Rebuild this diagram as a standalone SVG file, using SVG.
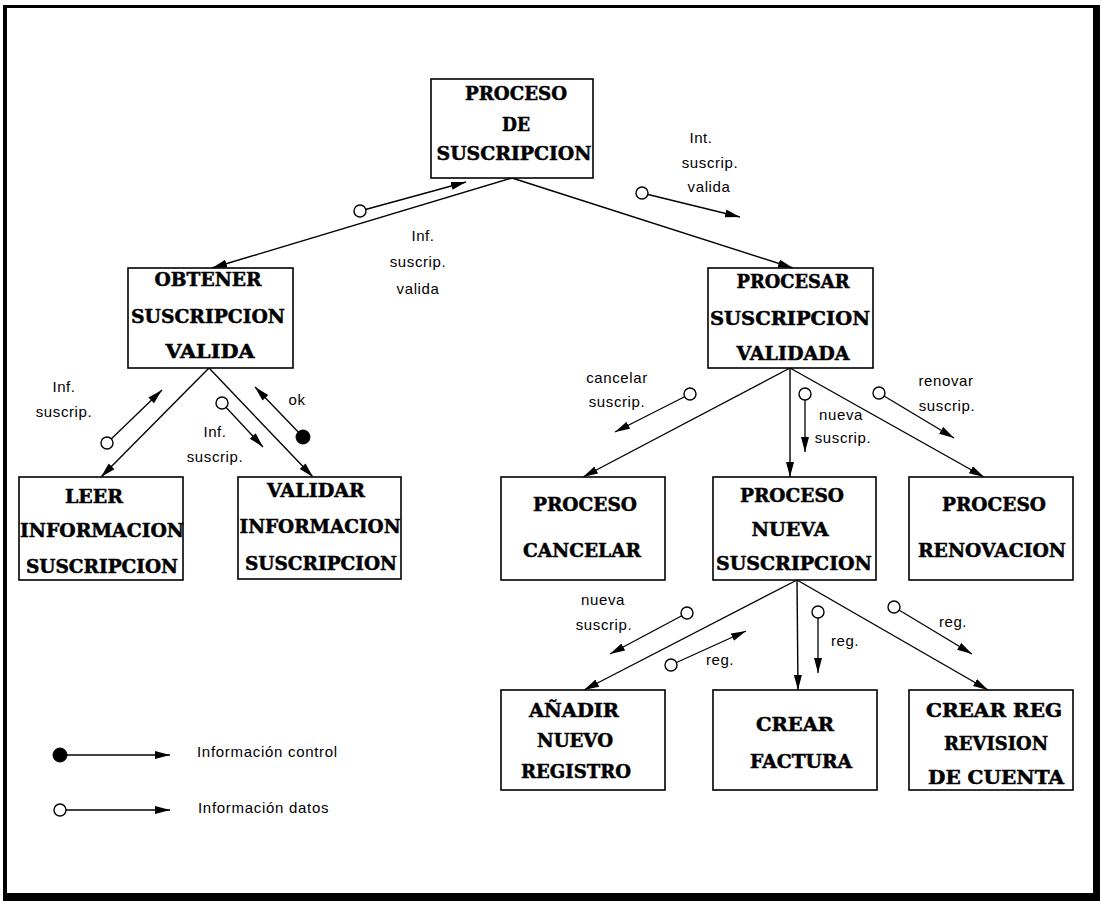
<svg xmlns="http://www.w3.org/2000/svg" width="1109" height="901" viewBox="0 0 1109 901">
  <defs>
    <marker id="arrow" markerUnits="userSpaceOnUse" markerWidth="16" markerHeight="9" refX="15" refY="4" orient="auto">
      <path d="M0,0 L15,4 L0,8 Z" fill="#000"/>
    </marker>
    <style>
      .box { fill: #fff; stroke: #000; stroke-width: 1.6; }
      .nt { font-family: "DejaVu Serif", "Liberation Serif", serif; font-weight: bold; font-size: 18px; fill: #000; stroke: #000; stroke-width: 0.5; text-anchor: middle; }
      .lb { font-family: "Liberation Sans", Arial, sans-serif; font-size: 15px; letter-spacing: 0.6px; fill: #000; text-anchor: middle; }
      .lg { font-family: "Liberation Sans", Arial, sans-serif; font-size: 15px; letter-spacing: 0.7px; fill: #000; }
      .edge { stroke: #000; stroke-width: 1.4; fill: none; marker-end: url(#arrow); }
      .flow { stroke: #000; stroke-width: 1.3; fill: none; marker-end: url(#arrow); }
      .dato { fill: #fff; stroke: #000; stroke-width: 1.4; }
      .ctrl { fill: #000; stroke: #000; stroke-width: 1; }
    </style>
  </defs>

  <rect width="1109" height="901" fill="#fff"/>

  <!-- page frame -->
  <g id="frame" fill="#000">
    <rect x="3" y="5" width="1097" height="3"/>
    <rect x="3" y="5" width="4" height="896"/>
    <rect x="1093" y="5" width="7" height="896"/>
    <rect x="3" y="893" width="1097" height="8"/>
  </g>

  <!-- structure connectors -->
  <g id="connectors">
    <line class="edge" x1="512" y1="178" x2="212" y2="268"/>
    <line class="edge" x1="512" y1="178" x2="793" y2="268"/>
    <line class="edge" x1="209" y1="368" x2="101" y2="477"/>
    <line class="edge" x1="209" y1="368" x2="313" y2="477"/>
    <line class="edge" x1="790" y1="368" x2="583" y2="477"/>
    <line class="edge" x1="790" y1="368" x2="790" y2="477"/>
    <line class="edge" x1="790" y1="368" x2="984" y2="477"/>
    <line class="edge" x1="797" y1="580" x2="584" y2="690"/>
    <line class="edge" x1="797" y1="580" x2="798" y2="690"/>
    <line class="edge" x1="797" y1="580" x2="988" y2="690"/>
  </g>

  <!-- data / control couples -->
  <g id="couples">
    <line class="flow" x1="360" y1="211" x2="466" y2="182"/>
    <circle class="dato" cx="360" cy="211" r="6"/>
    <text class="lb" x="423" y="241">Inf.</text>
    <text class="lb" x="418" y="267">suscrip.</text>
    <text class="lb" x="418" y="294">valida</text>

    <line class="flow" x1="642" y1="193" x2="740" y2="217"/>
    <circle class="dato" cx="642" cy="193" r="6"/>
    <text class="lb" x="701" y="143">Int.</text>
    <text class="lb" x="710" y="168">suscrip.</text>
    <text class="lb" x="709" y="192">valida</text>

    <line class="flow" x1="107" y1="443" x2="162" y2="390"/>
    <circle class="dato" cx="107" cy="443" r="6"/>
    <text class="lb" x="64" y="392">Inf.</text>
    <text class="lb" x="64" y="417">suscrip.</text>

    <line class="flow" x1="222" y1="403" x2="263" y2="447"/>
    <circle class="dato" cx="222" cy="403" r="6"/>
    <text class="lb" x="215" y="437">Inf.</text>
    <text class="lb" x="215" y="462">suscrip.</text>

    <line class="flow" x1="303" y1="437" x2="255" y2="387"/>
    <circle class="ctrl" cx="303" cy="437" r="7"/>
    <text class="lb" x="297" y="405">ok</text>

    <line class="flow" x1="690" y1="394" x2="615" y2="432"/>
    <circle class="dato" cx="690" cy="394" r="6"/>
    <text class="lb" x="617" y="383">cancelar</text>
    <text class="lb" x="617" y="407">suscrip.</text>

    <line class="flow" x1="805" y1="394" x2="805" y2="452"/>
    <circle class="dato" cx="805" cy="394" r="6"/>
    <text class="lb" x="841" y="420">nueva</text>
    <text class="lb" x="843" y="443">suscrip.</text>

    <line class="flow" x1="879" y1="393" x2="954" y2="438"/>
    <circle class="dato" cx="879" cy="393" r="6"/>
    <text class="lb" x="946" y="386">renovar</text>
    <text class="lb" x="947" y="411">suscrip.</text>

    <line class="flow" x1="687" y1="613" x2="610" y2="654"/>
    <circle class="dato" cx="687" cy="613" r="6"/>
    <text class="lb" x="603" y="605">nueva</text>
    <text class="lb" x="604" y="630">suscrip.</text>

    <line class="flow" x1="671" y1="665" x2="746" y2="631"/>
    <circle class="dato" cx="671" cy="665" r="6"/>
    <text class="lb" x="720" y="665">reg.</text>

    <line class="flow" x1="818" y1="612" x2="818" y2="673"/>
    <circle class="dato" cx="818" cy="612" r="6"/>
    <text class="lb" x="845" y="646">reg.</text>

    <line class="flow" x1="894" y1="607" x2="972" y2="654"/>
    <circle class="dato" cx="894" cy="607" r="6"/>
    <text class="lb" x="953" y="627">reg.</text>
  </g>

  <!-- modules -->
  <g id="n-proceso">
    <rect class="box" x="431" y="79" width="162" height="99"/>
    <text class="nt" x="516" y="100" textLength="102" lengthAdjust="spacingAndGlyphs">PROCESO</text>
    <text class="nt" x="516" y="131" textLength="28" lengthAdjust="spacingAndGlyphs">DE</text>
    <text class="nt" x="514" y="160" textLength="155" lengthAdjust="spacingAndGlyphs">SUSCRIPCION</text>
  </g>

  <g id="n-obtener">
    <rect class="box" x="128" y="268" width="165" height="100"/>
    <text class="nt" x="208" y="286" textLength="107" lengthAdjust="spacingAndGlyphs">OBTENER</text>
    <text class="nt" x="208" y="323" textLength="154" lengthAdjust="spacingAndGlyphs">SUSCRIPCION</text>
    <text class="nt" x="210" y="358" textLength="89" lengthAdjust="spacingAndGlyphs">VALIDA</text>
  </g>

  <g id="n-procesar">
    <rect class="box" x="708" y="268" width="165" height="100"/>
    <text class="nt" x="793" y="288" textLength="113" lengthAdjust="spacingAndGlyphs">PROCESAR</text>
    <text class="nt" x="790" y="325" textLength="160" lengthAdjust="spacingAndGlyphs">SUSCRIPCION</text>
    <text class="nt" x="793" y="360" textLength="113" lengthAdjust="spacingAndGlyphs">VALIDADA</text>
  </g>

  <g id="n-leer">
    <rect class="box" x="19" y="477" width="164" height="103"/>
    <text class="nt" x="94" y="503" textLength="58" lengthAdjust="spacingAndGlyphs">LEER</text>
    <text class="nt" x="102" y="537" textLength="164" lengthAdjust="spacingAndGlyphs">INFORMACION</text>
    <text class="nt" x="102" y="573" textLength="152" lengthAdjust="spacingAndGlyphs">SUSCRIPCION</text>
  </g>

  <g id="n-validar">
    <rect class="box" x="238" y="477" width="163" height="102"/>
    <text class="nt" x="316" y="497" textLength="98" lengthAdjust="spacingAndGlyphs">VALIDAR</text>
    <text class="nt" x="320" y="533" textLength="161" lengthAdjust="spacingAndGlyphs">INFORMACION</text>
    <text class="nt" x="321" y="570" textLength="152" lengthAdjust="spacingAndGlyphs">SUSCRIPCION</text>
  </g>

  <g id="n-cancelar">
    <rect class="box" x="501" y="477" width="164" height="103"/>
    <text class="nt" x="585" y="511" textLength="104" lengthAdjust="spacingAndGlyphs">PROCESO</text>
    <text class="nt" x="582" y="557" textLength="118" lengthAdjust="spacingAndGlyphs">CANCELAR</text>
  </g>

  <g id="n-nueva">
    <rect class="box" x="713" y="477" width="163" height="103"/>
    <text class="nt" x="792" y="502" textLength="104" lengthAdjust="spacingAndGlyphs">PROCESO</text>
    <text class="nt" x="790" y="536" textLength="77" lengthAdjust="spacingAndGlyphs">NUEVA</text>
    <text class="nt" x="794" y="570" textLength="156" lengthAdjust="spacingAndGlyphs">SUSCRIPCION</text>
  </g>

  <g id="n-renovacion">
    <rect class="box" x="909" y="477" width="164" height="103"/>
    <text class="nt" x="994" y="511" textLength="104" lengthAdjust="spacingAndGlyphs">PROCESO</text>
    <text class="nt" x="992" y="557" textLength="148" lengthAdjust="spacingAndGlyphs">RENOVACION</text>
  </g>

  <g id="n-anadir">
    <rect class="box" x="501" y="690" width="164" height="100"/>
    <text class="nt" x="574" y="717" textLength="90" lengthAdjust="spacingAndGlyphs">AÑADIR</text>
    <text class="nt" x="575" y="747" textLength="76" lengthAdjust="spacingAndGlyphs">NUEVO</text>
    <text class="nt" x="576" y="778" textLength="110" lengthAdjust="spacingAndGlyphs">REGISTRO</text>
  </g>

  <g id="n-factura">
    <rect class="box" x="713" y="690" width="164" height="100"/>
    <text class="nt" x="795" y="731" textLength="78" lengthAdjust="spacingAndGlyphs">CREAR</text>
    <text class="nt" x="801" y="768" textLength="102" lengthAdjust="spacingAndGlyphs">FACTURA</text>
  </g>

  <g id="n-revision">
    <rect class="box" x="909" y="690" width="164" height="100"/>
    <text class="nt" x="994" y="717" textLength="136" lengthAdjust="spacingAndGlyphs">CREAR REG</text>
    <text class="nt" x="996" y="750" textLength="104" lengthAdjust="spacingAndGlyphs">REVISION</text>
    <text class="nt" x="996" y="784" textLength="136" lengthAdjust="spacingAndGlyphs">DE CUENTA</text>
  </g>

  <!-- legend -->
  <g id="legend">
    <line class="flow" x1="60" y1="755" x2="170" y2="755"/>
    <circle class="ctrl" cx="60" cy="755" r="7"/>
    <text class="lg" x="197" y="757">Información control</text>
    <line class="flow" x1="60" y1="810" x2="170" y2="810"/>
    <circle class="dato" cx="60" cy="810" r="6"/>
    <text class="lg" x="198" y="813">Información datos</text>
  </g>
</svg>
